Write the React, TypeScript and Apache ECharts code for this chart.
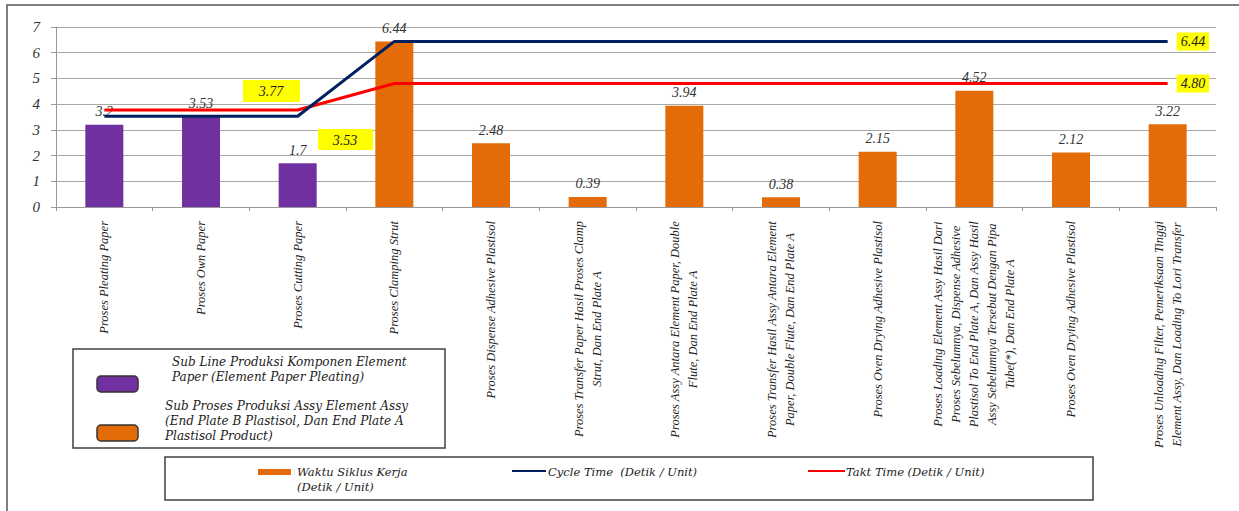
import React, { useEffect, useRef } from "react";
import * as echarts from "echarts";

const categories: string[] = [
  "Proses Pleating Paper",
  "Proses Own Paper",
  "Proses Cutting Paper",
  "Proses Clamping Strut",
  "Proses Dispense Adhesive Plastisol",
  "Proses Transfer Paper Hasil Proses Clamp\nStrut, Dan End Plate A",
  "Proses Assy Antara Element Paper, Double\nFlute, Dan End Plate A",
  "Proses Transfer Hasil Assy Antara Element\nPaper, Double Flute, Dan End Plate A",
  "Proses Oven Drying Adhesive Plastisol",
  "Proses Loading Element Assy Hasil Dari\nProses Sebelumnya, Dispense Adhesive\nPlastisol To End Plate A, Dan Assy Hasil\nAssy Sebelumnya Tersebut Dengan Pipa\nTube(*), Dan End Plate A",
  "Proses Oven Drying Adhesive Plastisol",
  "Proses Unloading Filter, Pemeriksaan Tinggi\nElement Assy, Dan Loading To Lori Transfer",
];

const waktuSiklus: number[] = [3.2, 3.53, 1.7, 6.44, 2.48, 0.39, 3.94, 0.38, 2.15, 4.52, 2.12, 3.22];
const groups: number[] = [0, 0, 0, 1, 1, 1, 1, 1, 1, 1, 1, 1];
const cycleTime: number[] = [3.53, 3.53, 3.53, 6.44, 6.44, 6.44, 6.44, 6.44, 6.44, 6.44, 6.44, 6.44];
const taktTime: number[] = [3.77, 3.77, 3.77, 4.8, 4.8, 4.8, 4.8, 4.8, 4.8, 4.8, 4.8, 4.8];
const yTicks: number[] = [0, 1, 2, 3, 4, 5, 6, 7];
const annotations: { text: string }[] = [{ text: "3.77" }, { text: "3.53" }];

const PURPLE = "#7030A0";
const ORANGE = "#E36C09";
const NAVY = "#002060";
const RED = "#FF0000";
const SERIF = "'Liberation Serif', 'DejaVu Serif', serif";
const LEG_FONT = "'DejaVu Serif', serif";

export default function App() {
  const ref = useRef<HTMLDivElement>(null);
  useEffect(() => {
    document.body.style.margin = "0";
    if (!ref.current) return;
    const chart = echarts.init(ref.current, undefined, { renderer: "svg" });
    const groupColors = [PURPLE, ORANGE];
    const option: any = {
      animation: false,
      backgroundColor: "#ffffff",
      grid: { left: 56, right: 23, top: 27, bottom: 304, containLabel: false },
      xAxis: {
        type: "category",
        data: categories,
        boundaryGap: true,
        axisLine: { show: true, lineStyle: { color: "#999", width: 1 } },
        axisTick: { show: true, length: 4, lineStyle: { color: "#999" } },
        axisLabel: {
          interval: 0,
          rotate: 90,
          margin: 14,
          formatter: (v: string) =>
            v
              .split("\n")
              .map((l) => "{c|" + l + "}")
              .join("\n"),
          rich: {
            c: {
              align: "center",
              fontFamily: SERIF,
              fontStyle: "italic",
              fontSize: 12.5,
              color: "#222",
              lineHeight: 18,
            },
          },
        },
      },
      yAxis: {
        type: "value",
        min: yTicks[0],
        max: yTicks[yTicks.length - 1],
        interval: 1,
        axisLine: { show: true, lineStyle: { color: "#999" } },
        axisTick: { show: true, length: 5, lineStyle: { color: "#999" } },
        splitLine: { show: true, lineStyle: { color: "#A8A8A8", width: 1 } },
        axisLabel: {
          margin: 16,
          fontFamily: SERIF,
          fontStyle: "italic",
          fontSize: 15,
          color: "#333",
        },
      },
      series: [
        {
          name: "Waktu Siklus Kerja (Detik / Unit)",
          type: "bar",
          barWidth: 38,
          z: 2,
          data: waktuSiklus.map((v, i) => ({
            value: v,
            itemStyle: { color: groupColors[groups[i]] },
          })),
          label: {
            show: true,
            position: "top",
            distance: 6,
            fontFamily: SERIF,
            fontStyle: "italic",
            fontSize: 14,
            color: "#333",
            formatter: (p: any) => String(p.value),
          },
        },
        {
          name: "Cycle Time (Detik / Unit)",
          type: "line",
          data: cycleTime,
          symbol: "none",
          z: 4,
          lineStyle: { color: NAVY, width: 3 },
          itemStyle: { color: NAVY },
          endLabel: {
            show: true,
            distance: 9,
            formatter: (p: any) => Number(p.value).toFixed(2),
            backgroundColor: "#FFFF00",
            padding: [2, 4, 2, 4],
            fontFamily: SERIF,
            fontStyle: "italic",
            fontSize: 14,
            color: "#222",
          },
        },
        {
          name: "Takt Time (Detik / Unit)",
          type: "line",
          data: taktTime,
          symbol: "none",
          z: 3,
          lineStyle: { color: RED, width: 3 },
          itemStyle: { color: RED },
          endLabel: {
            show: true,
            distance: 9,
            formatter: (p: any) => Number(p.value).toFixed(2),
            backgroundColor: "#FFFF00",
            padding: [2, 4, 2, 4],
            fontFamily: SERIF,
            fontStyle: "italic",
            fontSize: 14,
            color: "#222",
          },
        },
      ],
      graphic: [
        // outer frame
        {
          type: "rect",
          shape: { x: 7, y: 5, width: 1245, height: 520 },
          style: { fill: "none", stroke: "#555", lineWidth: 1.5 },
          silent: true,
          z: 0,
        },
        // yellow annotations
        {
          type: "rect",
          shape: { x: 243, y: 80, width: 57, height: 22 },
          style: { fill: "#FFFF00" },
          z: 10,
        },
        {
          type: "text",
          x: 271,
          y: 91,
          style: {
            text: annotations[0].text,
            align: "center",
            verticalAlign: "middle",
            font: "italic 14px " + SERIF,
            fill: "#222",
          },
          z: 11,
        },
        {
          type: "rect",
          shape: { x: 318, y: 129, width: 55, height: 21 },
          style: { fill: "#FFFF00" },
          z: 10,
        },
        {
          type: "text",
          x: 345,
          y: 140,
          style: {
            text: annotations[1].text,
            align: "center",
            verticalAlign: "middle",
            font: "italic 14px " + SERIF,
            fill: "#222",
          },
          z: 11,
        },
        // legend box 1
        {
          type: "rect",
          shape: { x: 73, y: 349, width: 372, height: 99 },
          style: { fill: "#fff", stroke: "#404040", lineWidth: 1.5 },
          z: 10,
        },
        {
          type: "rect",
          shape: { x: 97, y: 376, width: 41, height: 16, r: 4 },
          style: { fill: PURPLE, stroke: "#333", lineWidth: 1.5 },
          z: 11,
        },
        {
          type: "rect",
          shape: { x: 97, y: 425, width: 41, height: 16, r: 4 },
          style: { fill: ORANGE, stroke: "#333", lineWidth: 1.5 },
          z: 11,
        },
        {
          type: "text",
          x: 172,
          y: 354,
          style: {
            text: "Sub Line Produksi Komponen Element\nPaper (Element Paper Pleating)",
            font: "italic 12px " + LEG_FONT,
            lineHeight: 15,
            fill: "#222",
          },
          z: 11,
        },
        {
          type: "text",
          x: 165,
          y: 398,
          style: {
            text: "Sub Proses Produksi Assy Element Assy\n(End Plate B Plastisol, Dan End Plate A\nPlastisol Product)",
            font: "italic 12px " + LEG_FONT,
            lineHeight: 15,
            fill: "#222",
          },
          z: 11,
        },
        // legend box 2
        {
          type: "rect",
          shape: { x: 165, y: 457, width: 928, height: 43 },
          style: { fill: "#fff", stroke: "#404040", lineWidth: 1.5 },
          z: 10,
        },
        {
          type: "rect",
          shape: { x: 258, y: 469, width: 33, height: 6 },
          style: { fill: ORANGE },
          z: 11,
        },
        {
          type: "text",
          x: 297,
          y: 464,
          style: {
            text: "Waktu Siklus Kerja\n(Detik / Unit)",
            font: "italic 11.5px " + LEG_FONT,
            lineHeight: 15,
            fill: "#222",
          },
          z: 11,
        },
        {
          type: "line",
          shape: { x1: 512, y1: 471, x2: 546, y2: 471 },
          style: { stroke: NAVY, lineWidth: 2 },
          z: 11,
        },
        {
          type: "text",
          x: 548,
          y: 464,
          style: {
            text: "Cycle Time  (Detik / Unit)",
            font: "italic 11.5px " + LEG_FONT,
            lineHeight: 15,
            fill: "#222",
          },
          z: 11,
        },
        {
          type: "line",
          shape: { x1: 808, y1: 471, x2: 845, y2: 471 },
          style: { stroke: RED, lineWidth: 2 },
          z: 11,
        },
        {
          type: "text",
          x: 846,
          y: 464,
          style: {
            text: "Takt Time (Detik / Unit)",
            font: "italic 11.5px " + LEG_FONT,
            lineHeight: 15,
            fill: "#222",
          },
          z: 11,
        },
      ],
    };
    chart.setOption(option);
    return () => chart.dispose();
  }, []);
  return <div ref={ref} style={{ width: 1239, height: 511 }} />;
}
